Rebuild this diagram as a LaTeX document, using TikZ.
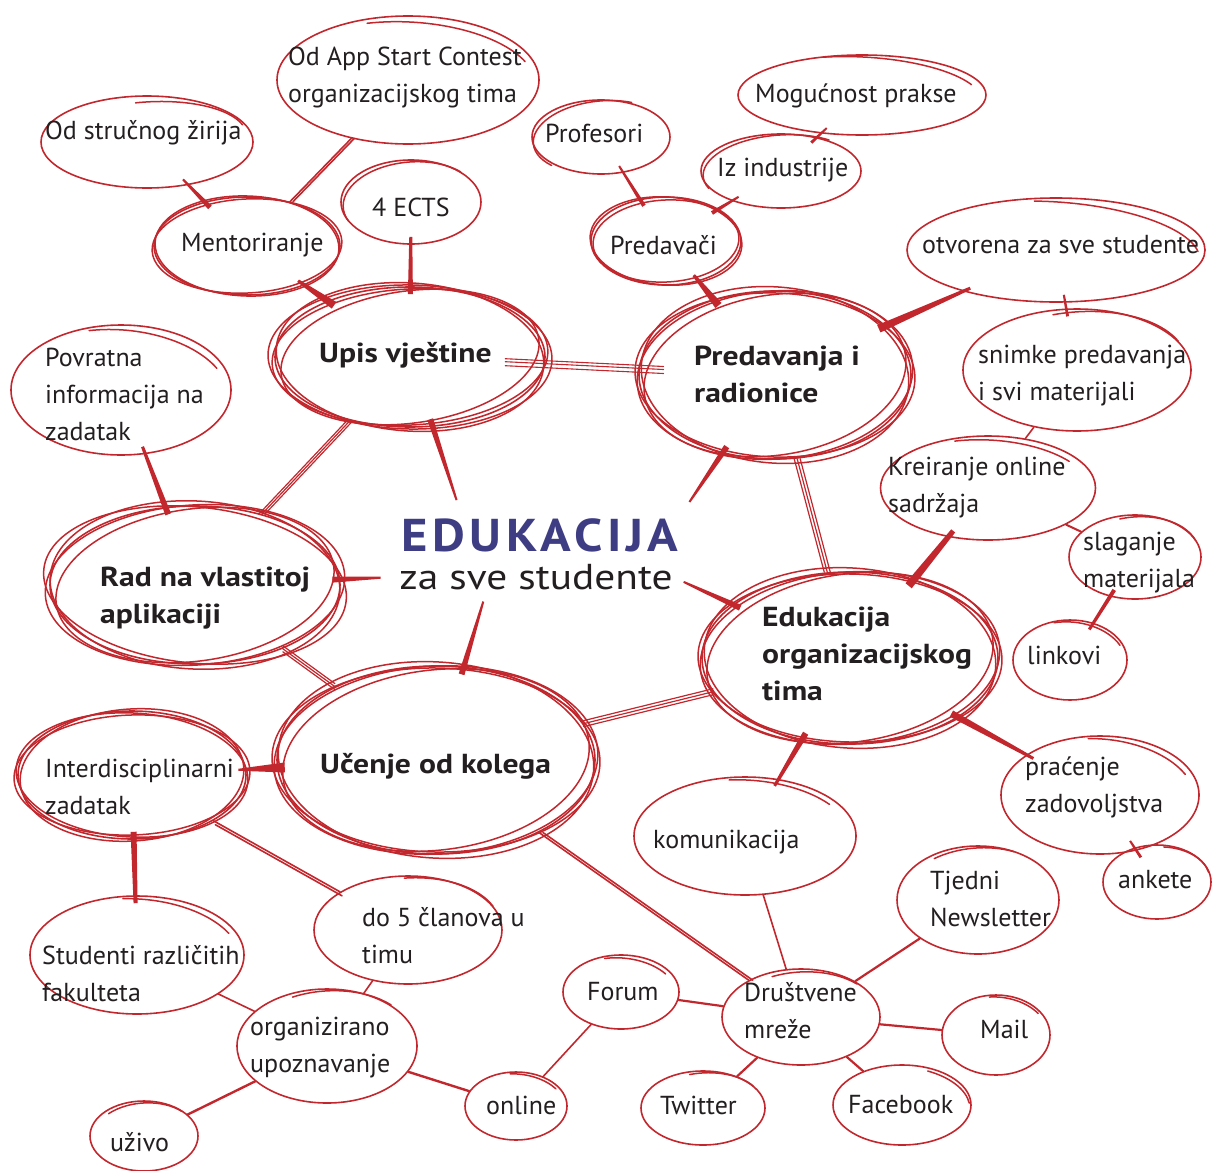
\documentclass[tikz,border=0pt]{standalone}
\usepackage{fontspec}
\setmainfont{PT Sans}
\newfontfamily\wide[FakeStretch=1.15]{PT Sans}
\newfontfamily\titlefont[FakeStretch=1.1, LetterSpace=10]{PT Sans}
\usetikzlibrary{calc,shapes.geometric}
\definecolor{mapred}{RGB}{193,39,45}
\definecolor{mapblue}{RGB}{62,61,132}
\definecolor{mapink}{RGB}{35,31,32}
\tikzset{>=latex}

% extra hand drawn strokes round a node
\newcommand\rings[2]{%
  \foreach \ra/\rx/\ry in {#2}
    \draw[ring, rotate around={\ra:(#1.center)}] (#1.center) ellipse [x radius=\rx, y radius=\ry];}
% second stroke over part of a node
\newcommand\tails[2]{%
  \foreach \ra/\rx/\ry/\ta/\tb in {#2}
    \draw[ring, rotate around={\ra:(#1.center)}] (#1.center) ++({\rx*cos(\ta)},{\ry*sin(\ta)})
      arc [start angle=\ta, end angle=\tb, x radius=\rx, y radius=\ry];}
% tapered connector, [#1] = how far it reaches
\newcommand\brush[5][1]{%
  \path (#2) -- coordinate[pos=0] (bs) coordinate[pos=#1] (be) (#3);
  \coordinate (bx) at ($(bs)!-8pt!(be)$);
  \coordinate (by) at ($(be)!-8pt!(bs)$);
  \fill[mapred] ($(bx)!#4!90:(by)$) -- ($(bx)!#4!-90:(by)$)
    -- ($(by)!#5!90:(bx)$) -- ($(by)!#5!-90:(bx)$) -- cycle;}

\begin{document}
\begin{tikzpicture}[x=1pt, y=-1pt, line cap=round, line join=round,
    ring/.style={draw=mapred, line width=1.5pt},
    idea/.style 2 args={ellipse, draw=mapred, line width=1.6pt, inner sep=0pt,
      minimum width=#1, minimum height=#2},
    link/.style={draw=mapred, line width=1.6pt},
    txt/.style={anchor=west, inner sep=0pt, align=left, text=mapink,
      font=\fontsize{26}{37}\selectfont},
    bold/.style={txt, font=\wide\fontsize{27.5}{37}\selectfont\bfseries}]
    \useasboundingbox (0,0) rectangle (1215,1170);

    % ellipses
    \node[idea={212}{92}] (zirija) at (147,142) {};
    \node[idea={262}{128}] (appstart) at (408,80) {};
    \node[idea={186}{98}] (mentor) at (247,246) {};
    \node[idea={140}{84}] (ects) at (411,202) {};
    \node[idea={270}{140}] (upis) at (410,357) {};
    \node[idea={220}{130}] (povratna) at (121,390) {};
    \node[idea={290}{158}] (rad) at (195,585) {};
    \node[idea={138}{74}] (profesori) at (601,137) {};
    \node[idea={248}{80}] (moguc) at (862,95) {};
    \node[idea={160}{74}] (industrija) at (781,171) {};
    \node[idea={150}{88}] (predavaci) at (666,241) {};
    \node[idea={272}{168}] (predavanja) at (775,375) {};
    \node[idea={298}{104}] (otvorena) at (1056,250) {};
    \node[idea={228}{122}] (snimke) at (1077,370) {};
    \node[idea={215}{104}] (kreiranje) at (988,488) {};
    \node[idea={132}{84}] (slaganje) at (1135,557) {};
    \node[idea={114}{80}] (linkovi) at (1070,660) {};
    \node[idea={296}{172}] (eduorg) at (850,658) {};
    \node[idea={228}{128}] (interdis) at (132,775) {};
    \node[idea={318}{188}] (ucenje) at (436,760) {};
    \node[idea={198}{118}] (pracenje) at (1100,795) {};
    \node[idea={108}{74}] (ankete) at (1157,882) {};
    \node[idea={222}{118}] (komunikacija) at (745,836) {};
    \node[idea={162}{108}] (newsletter) at (978,900) {};
    \node[idea={214}{118}] (studenti) at (137,955) {};
    \node[idea={188}{108}] (clanova) at (408,930) {};
    \node[idea={116}{74}] (forum) at (621,992) {};
    \node[idea={158}{96}] (drustvene) at (801,1017) {};
    \node[idea={108}{80}] (mail) at (996,1035) {};
    \node[idea={180}{114}] (upoznavanje) at (327,1046) {};
    \node[idea={102}{68}] (online) at (516,1106) {};
    \node[idea={124}{74}] (twitter) at (703,1108) {};
    \node[idea={138}{80}] (facebook) at (902,1105) {};
    \node[idea={108}{70}] (uzivo) at (144,1136) {};

    % sketch strokes
    \tails{zirija}{4/100/40/-95/-15}
    \tails{appstart}{-3/128/58/-110/-25}
    \rings{mentor}{3/95/47, -2/92/50}
    \tails{ects}{5/68/40/-200/-40}
    \rings{upis}{3/138/68, -4/134/74, 8/130/66, -1/142/72}
    \tails{povratna}{-5/108/60/-110/-30}
    \rings{rad}{4/150/80, -3/145/84, 8/140/76, -6/152/78}
    \tails{profesori}{6/68/36/-220/-60}
    \tails{moguc}{-3/120/38/-110/-25}
    \tails{industrija}{4/78/36/-200/-50}
    \rings{predavaci}{-4/76/44, 3/73/41}
    \rings{predavanja}{4/138/84, -5/134/88, 9/132/80, -2/140/82}
    \tails{otvorena}{-4/144/48/-100/-10}
    \tails{snimke}{5/110/58/-100/-20}
    \tails{kreiranje}{-3/104/48/-110/-40}
    \tails{slaganje}{6/64/40/-100/-15}
    \tails{linkovi}{-5/56/38/-110/-30}
    \rings{eduorg}{4/150/86, -4/146/90, 8/144/84, -1/152/84}
    \rings{interdis}{-3/116/62, 4/112/66, 2/118/60}
    \rings{ucenje}{3/162/94, -4/158/98, 7/154/90, -1/164/92}
    \tails{pracenje}{-5/96/56/-100/-30}
    \tails{ankete}{4/53/35/-80/-10}
    \tails{komunikacija}{-3/108/56/-100/-40}
    \tails{newsletter}{5/80/52/-120/-60}
    \tails{studenti}{-4/104/56/-100/-30}
    \tails{clanova}{4/92/52/-90/-20}
    \tails{forum}{-5/56/34/-110/-40}
    \tails{drustvene}{4/76/45/-110/-40}
    \tails{mail}{-4/53/38/-100/-40}
    \tails{upoznavanje}{5/88/55/-110/-40}
    \tails{online}{-5/50/32/-100/-40}
    \tails{twitter}{5/60/35/-100/-30}
    \tails{facebook}{-4/68/38/-70/-10}
    \tails{uzivo}{5/52/33/-130/-40}

    % title
    \node[inner sep=0pt, text=mapblue,
      font=\titlefont\fontsize{46}{46}\selectfont\bfseries] (title) at (540,535) {EDUKACIJA};
    \node[inner sep=0pt, text=mapink, font=\wide\fontsize{36}{36}\selectfont] (subtitle) at (536,577) {za sve studente};
    \coordinate (title-top) at ($(title.north west)!0.22!(title.north east)$);
    \coordinate (subtitle-foot) at ($(subtitle.south west)!0.32!(subtitle.south east)$);

    % texts
    \node[txt] (zirija-t) at (45,133) {Od stručnog žirija};
    \node[txt] (appstart-t) at (288,77) {Od App Start Contest\\organizacijskog tima};
    \node[txt] (mentor-t) at (181,245) {Mentoriranje};
    \node[txt] (ects-t) at (372,207) {4 ECTS};
    \node[bold] (upis-t) at (319,355) {Upis vještine};
    \node[txt] (povratna-t) at (45,394) {Povratna\\informacija na\\zadatak};
    \node[bold] (rad-t) at (100,598) {Rad na vlastitoj\\aplikaciji};
    \node[txt] (profesori-t) at (545,133) {Profesori};
    \node[txt] (moguc-t) at (755,96) {Mogućnost prakse};
    \node[txt] (industrija-t) at (717,170) {Iz industrije};
    \node[txt] (predavaci-t) at (610,245) {Predavači};
    \node[bold] (predavanja-t) at (694,374) {Predavanja i\\radionice};
    \node[txt] (otvorena-t) at (922,245) {otvorena za sve studente};
    \node[txt] (snimke-t) at (978,376) {snimke predavanja\\i svi materijali};
    \node[txt] (kreiranje-t) at (888,488) {Kreiranje online\\sadržaja};
    \node[txt] (slaganje-t) at (1083,563) {slaganje\\materijala};
    \node[txt] (linkovi-t) at (1027,655) {linkovi};
    \node[bold] (eduorg-t) at (762,654) {Edukacija\\organizacijskog\\tima};
    \node[txt] (interdis-t) at (45,787) {Interdisciplinarni\\zadatak};
    \node[bold] (ucenje-t) at (320,766) {Učenje od kolega};
    \node[txt] (pracenje-t) at (1025,787) {praćenje\\zadovoljstva};
    \node[txt] (ankete-t) at (1118,880) {ankete};
    \node[txt] (komunikacija-t) at (653,842) {komunikacija};
    \node[txt] (newsletter-t) at (930,899) {Tjedni\\Newsletter};
    \node[txt] (studenti-t) at (42,974) {Studenti različitih\\fakulteta};
    \node[txt] (clanova-t) at (362,936) {do 5 članova u\\timu};
    \node[txt] (forum-t) at (587,992) {Forum};
    \node[txt] (drustvene-t) at (744,1011) {Društvene\\mreže};
    \node[txt] (mail-t) at (980,1029) {Mail};
    \node[txt] (upoznavanje-t) at (250,1048) {organizirano\\upoznavanje};
    \node[txt] (online-t) at (486,1105) {online};
    \node[txt] (twitter-t) at (660,1105) {Twitter};
    \node[txt] (facebook-t) at (848,1105) {Facebook};
    \node[txt] (uzivo-t) at (110,1142) {uživo};

    % connectors
    \brush{zirija}{mentor}{1pt}{2.5pt}
    \draw[link] (appstart) -- (mentor);
    \draw[link, transform canvas={xshift=3pt}] (appstart) -- (mentor);
    \brush{ects}{upis}{1.5pt}{2.5pt}
    \brush{mentor}{upis}{1.5pt}{4pt}
    \foreach \s in {-4,0,3}
        \draw[link, line width=1.1pt, shorten <=-40pt, shorten >=-25pt,
            transform canvas={yshift=\s pt}] (upis) -- (predavanja);
    \foreach \s in {-3,0,3}
        \draw[link, line width=1.2pt, transform canvas={xshift=\s pt}] (upis) -- (rad);
    \brush[0.72]{upis}{title-top}{3pt}{1pt}
    \brush{povratna}{rad}{1.5pt}{3pt}
    \brush[0.55]{rad}{subtitle.west}{3pt}{1pt}
    \foreach \s in {-3,0,3}
        \draw[link, line width=1.2pt, transform canvas={yshift=\s pt}] (rad) -- (ucenje);
    \brush[0.75]{ucenje}{subtitle-foot}{3pt}{1pt}
    \brush[0.65]{predavanja}{title.north east}{3pt}{1pt}
    \foreach \s in {-3,0,3}
        \draw[link, line width=1.2pt, transform canvas={xshift=\s pt}] (predavanja) -- (eduorg);
    \brush{predavaci}{predavanja}{1.5pt}{4pt}
    \brush{profesori}{predavaci}{1pt}{2pt}
    \brush{industrija}{predavaci}{1pt}{2pt}
    \brush{moguc}{industrija}{1pt}{1.5pt}
    \brush{predavanja}{otvorena}{4pt}{1.5pt}
    \brush{otvorena}{snimke}{1pt}{1.5pt}
    \draw[link] (snimke) -- (kreiranje);
    \brush{kreiranje}{eduorg}{2.5pt}{4pt}
    \draw[link, line width=2pt] (kreiranje) -- (slaganje);
    \brush{slaganje}{linkovi}{2pt}{1.5pt}
    \brush[0.7]{eduorg}{subtitle.east}{3pt}{1pt}
    \foreach \s in {-3,0,3}
        \draw[link, line width=1.2pt, transform canvas={yshift=\s pt}] (eduorg) -- (ucenje);
    \brush{eduorg}{pracenje}{3.5pt}{1.5pt}
    \brush{pracenje}{ankete}{1.5pt}{1pt}
    \brush{eduorg}{komunikacija}{3pt}{1.5pt}
    \draw[link] (komunikacija) -- (drustvene);
    \draw[link] (ucenje) -- (drustvene);
    \draw[link, transform canvas={xshift=4pt}] (ucenje) -- (drustvene);
    \brush{ucenje}{interdis}{5pt}{1pt}
    \brush{interdis}{studenti}{3pt}{2pt}
    \draw[link] (interdis) -- (clanova);
    \draw[link, transform canvas={shift={(2pt,-4pt)}}] (interdis) -- (clanova);
    \draw[link] (clanova) -- (upoznavanje);
    \draw[link] (studenti) -- (upoznavanje);
    \draw[link, line width=2.4pt] (upoznavanje) -- (uzivo);
    \draw[link, line width=2.4pt] (upoznavanje) -- (online);
    \draw[link] (online) -- (forum);
    \draw[link, line width=2.2pt] (forum) -- (drustvene);
    \draw[link, line width=2.2pt] (drustvene) -- (newsletter);
    \draw[link, line width=2.2pt] (drustvene) -- (mail);
    \draw[link, line width=2.2pt] (drustvene) -- (twitter);
    \draw[link, line width=2.2pt] (drustvene) -- (facebook);
\end{tikzpicture}
\end{document}
